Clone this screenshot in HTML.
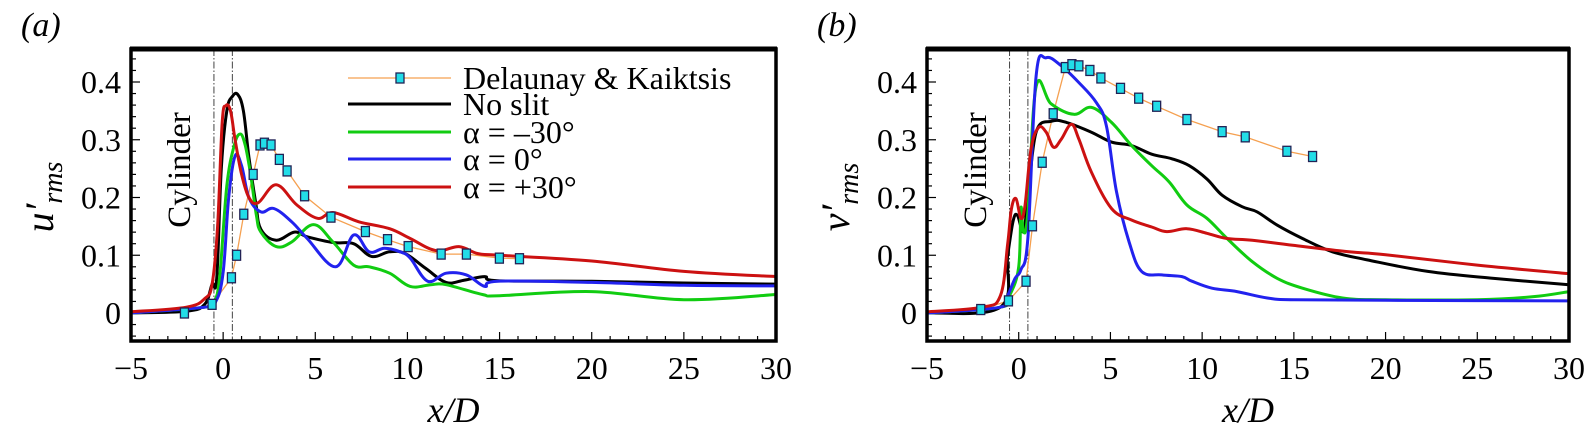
<!DOCTYPE html>
<html><head><meta charset="utf-8"><style>
body{margin:0;background:#fff}
svg{display:block}
text{font-family:"Liberation Serif","DejaVu Serif",serif}
</style></head><body>
<svg id="fig" width="1585" height="433" xmlns="http://www.w3.org/2000/svg"></svg>
<script>
const xTicks=[-5,0,5,10,15,20,25,30];
const yTicks=[0,0.1,0.2,0.3,0.4];
const yTickLabels=["0","0.1","0.2","0.3","0.4"];
// panel a
const aDKx=[-2.1,-0.6,0.45,0.73,1.12,1.63,2.0,2.24,2.6,3.05,3.47,4.42,5.85,7.72,8.92,10.04,11.83,13.2,14.99,16.08];
const aDKy=[0,0.015,0.061,0.10,0.171,0.24,0.291,0.294,0.291,0.266,0.246,0.203,0.166,0.141,0.127,0.115,0.102,0.102,0.095,0.094];
const aBlackX=[-5,-2,-1,-0.6,-0.35,-0.1,0.2,0.5,0.8,1.1,1.4,1.77,2.05,2.88,3.86,4.56,5.96,7.08,8.05,9.03,9.87,11.0,12.1,13.1,14.2,14.9,20,25,30];
const aBlackY=[0,0.003,0.015,0.05,0.06,0.25,0.35,0.375,0.378,0.35,0.27,0.19,0.145,0.126,0.14,0.132,0.122,0.12,0.098,0.106,0.103,0.077,0.053,0.057,0.063,0.056,0.055,0.052,0.05];
const aGreenX=[-5,-1,-0.5,-0.2,0.2,0.6,0.93,1.2,1.49,1.8,2.05,2.88,3.72,4.9,5.96,7.08,7.92,9.03,10.15,11.27,12.1,14.07,15,20,25,30];
const aGreenY=[0,0.01,0.02,0.06,0.22,0.29,0.31,0.29,0.24,0.17,0.14,0.115,0.123,0.153,0.123,0.083,0.08,0.069,0.046,0.049,0.049,0.032,0.03,0.037,0.023,0.032];
const aBlueX=[-5,-1,-0.4,0,0.3,0.65,1.0,1.4,2.05,2.75,3.72,4.56,6.1,7.08,7.92,8.75,9.6,10.15,11.1,12.1,13.2,14.2,14.9,20,25,30];
const aBlueY=[0,0.01,0.02,0.07,0.2,0.272,0.255,0.2,0.175,0.181,0.158,0.129,0.08,0.135,0.106,0.112,0.106,0.095,0.055,0.069,0.066,0.046,0.055,0.053,0.048,0.047];
const aRedX=[-5,-2,-1,-0.6,-0.3,-0.05,0.15,0.4,0.65,1.0,1.4,1.9,2.88,4.0,5.12,5.96,7.36,9.03,10.15,11.55,12.8,13.8,15,20,25,30];
const aRedY=[0.002,0.01,0.025,0.05,0.15,0.33,0.359,0.35,0.30,0.24,0.2,0.191,0.222,0.187,0.164,0.174,0.158,0.146,0.129,0.108,0.115,0.103,0.1,0.09,0.072,0.063];
// panel b
const bDKx=[-2.07,-0.56,0.4,0.75,1.28,1.88,2.54,2.9,3.28,3.88,4.48,5.55,6.54,7.52,9.17,11.09,12.35,14.62,16.02];
const bDKy=[0.006,0.021,0.055,0.151,0.261,0.345,0.425,0.43,0.428,0.42,0.407,0.389,0.372,0.358,0.335,0.314,0.305,0.28,0.271];
const bBlackX=[-5,-1,-0.6,-0.3,-0.07,0.26,0.5,0.95,1.77,2.6,3.96,5.06,6.15,7.25,8.35,9.3,10.26,11.09,12.18,13.0,14.1,15.47,17.1,19.0,22.3,25.9,30];
const bBlackY=[0,0.01,0.1,0.16,0.169,0.141,0.2,0.313,0.332,0.33,0.313,0.296,0.29,0.275,0.267,0.255,0.232,0.204,0.184,0.175,0.152,0.129,0.106,0.092,0.072,0.06,0.049];
const bGreenX=[-5,-1,-0.5,0,0.12,0.26,0.5,0.95,1.77,3.0,3.96,5.06,6.15,7.25,8.2,9.17,10.26,11.36,12.73,14.1,15.47,17.66,20,25,28,30];
const bGreenY=[0,0.01,0.03,0.08,0.182,0.14,0.175,0.392,0.362,0.344,0.356,0.33,0.29,0.255,0.227,0.187,0.164,0.129,0.089,0.06,0.043,0.026,0.023,0.023,0.028,0.037];
const bBlueX=[-5,-1,-0.6,-0.2,0.12,0.5,0.95,1.5,2.32,3.28,4.24,4.78,5.33,6.02,6.7,7.8,8.9,9.44,10.54,11.9,13.55,15,20,30];
const bBlueY=[0,0.01,0.03,0.06,0.075,0.13,0.41,0.442,0.428,0.399,0.364,0.324,0.21,0.123,0.072,0.066,0.063,0.055,0.043,0.037,0.026,0.023,0.022,0.021];
const bRedX=[-5,-2,-1,-0.6,-0.4,-0.15,0.12,0.34,0.67,1.08,1.5,1.9,2.32,2.87,3.28,3.96,5.06,6.15,7.25,8.07,9.17,10.26,11.36,12.73,15,18,20,25,30];
const bRedY=[0.002,0.01,0.03,0.12,0.18,0.198,0.164,0.186,0.284,0.321,0.313,0.287,0.301,0.327,0.301,0.244,0.181,0.161,0.149,0.141,0.146,0.138,0.129,0.126,0.117,0.106,0.101,0.083,0.068];

const NS="http://www.w3.org/2000/svg";
const svg=document.getElementById('fig');
function mk(tag,attrs,parent,text){const e=document.createElementNS(NS,tag);for(const k in attrs)e.setAttribute(k,attrs[k]);if(text!==undefined)e.textContent=text;(parent||svg).appendChild(e);return e;}
const Y0=313,YS=577.5,TOP=49,BOT=341;
function yS(v){return Y0-v*YS;}
function smooth(P){
  let d='M'+P[0][0].toFixed(1)+','+P[0][1].toFixed(1);
  for(let i=0;i<P.length-1;i++){
    const p0=P[Math.max(0,i-1)],p1=P[i],p2=P[i+1],p3=P[Math.min(P.length-1,i+2)];
    const t=0.18;
    const c1=[p1[0]+(p2[0]-p0[0])*t,p1[1]+(p2[1]-p0[1])*t];
    const c2=[p2[0]-(p3[0]-p1[0])*t,p2[1]-(p3[1]-p1[1])*t];
    d+='C'+c1[0].toFixed(1)+','+c1[1].toFixed(1)+' '+c2[0].toFixed(1)+','+c2[1].toFixed(1)+' '+p2[0].toFixed(1)+','+p2[1].toFixed(1);
  }
  return d;
}

function panel(left,right,letter,yvar,series,dk,legend){
  const xS=v=>left+(v+5)*(right-left)/35;
  const g=mk('g',{});
  
  
  const lab=mk('text',{x:left-110,y:36,'font-size':34,'font-style':'italic'},g,'('+letter+')');
  
  
  for(let v=-5;v<=30;v++){const L=(v%5===0)?9:5;mk('line',{x1:xS(v),x2:xS(v),y1:BOT,y2:BOT-L,stroke:'#000','stroke-width':1.2},g);}
  for(let k=-3;k<=22;k++){const v=k*0.02;const y=yS(v);if(y<TOP||y>BOT)continue;const L=(k%5===0)?9:5;mk('line',{x1:left,x2:left+L,y1:y,y2:y,stroke:'#000','stroke-width':1.2},g);}
  [-0.5,0.5].forEach(v=>{const l=mk('line',{x1:xS(v),x2:xS(v),y1:TOP,y2:BOT,stroke:'#444','stroke-width':1,'stroke-dasharray':'7 2 1.5 2'},g);
    
    });
  const cy=mk('text',{x:0,y:0,'font-size':33,'text-anchor':'middle',transform:`translate(${xS(-2.45)+12},170) rotate(-90)`},g,'Cylinder');
  
  
  const dd=dk.x.map((v,i)=>(i?'L':'M')+xS(v).toFixed(1)+','+yS(dk.y[i]).toFixed(1)).join('');
  const dl=mk('path',{d:dd,fill:'none',stroke:'#f5a050','stroke-width':1.3},g);
  
  
  series.forEach(s=>{const d=smooth(s.x.map((v,i)=>[xS(v),yS(s.y[i])]));
    const p=mk('path',{d:d,fill:'none',stroke:s.c,'stroke-width':3,'stroke-linejoin':'round'},g);
    
    });
  dk.x.forEach((v,i)=>{const r=mk('rect',{x:xS(v)-4,y:yS(dk.y[i])-5,width:8,height:10,fill:'#22dde8',stroke:'#225',"stroke-width":1.3},g);
    
    });
  mk('rect',{x:left,y:TOP,width:right-left,height:BOT-TOP,fill:'none',stroke:'#000','stroke-width':3.5},g);
  mk('line',{x1:left-1,x2:right+1,y1:TOP,y2:TOP,stroke:'#000','stroke-width':5},g);
  xTicks.forEach(v=>{const t=mk('text',{x:xS(v),y:379,'font-size':32,'text-anchor':'middle'},g,v<0?'\u2212'+(-v):String(v));
    
    });
  yTicks.forEach((v,i)=>{const t=mk('text',{x:left-10,y:yS(v)+11,'font-size':32,'text-anchor':'end'},g,yTickLabels[i]);
    
    });
  const xt=mk('text',{x:(left+right)/2-0,y:422,'font-size':36,'font-style':'italic','text-anchor':'middle'},g,'x/D');
  
  
  const yt=mk('text',{x:0,y:0,'font-size':40,'font-style':'italic','text-anchor':'middle',transform:`translate(${left-78},197) rotate(-90)`},g);
  
  
  mk('tspan',{},yt,yvar+'\u2032');
  mk('tspan',{'font-size':28,dy:9},yt,'rms');
  if(legend){
    const lg=mk('g',{},g);
    
    
    const rows=[{t:'Delaunay & Kaiktsis',c:'#f5a050',dk:1},{t:'No slit',c:'#000'},{t:'\u03b1 = \u201330\u00b0',c:'#11cc11'},{t:'\u03b1 = 0\u00b0',c:'#2222ee'},{t:'\u03b1 = +30\u00b0',c:'#cc1111'}];
    const ys=[78,104,132,159,187];
    rows.forEach((r,i)=>{
      const e=mk('g',{},lg);
      
      
      mk('line',{x1:348,x2:451,y1:ys[i],y2:ys[i],stroke:r.c,'stroke-width':r.dk?1.3:3},e);
      if(r.dk)mk('rect',{x:396,y:ys[i]-5,width:8,height:10,fill:'#22dde8',stroke:'#225','stroke-width':1.3},e);
      mk('text',{x:463,y:ys[i]+11,'font-size':32},e,r.t);
    });
  }
}
panel(131,776,'a','u',[
 {n:'no-slit',c:'#000',x:aBlackX,y:aBlackY},
 {n:'alpha-minus30',c:'#11cc11',x:aGreenX,y:aGreenY},
 {n:'alpha-0',c:'#2222ee',x:aBlueX,y:aBlueY},
 {n:'alpha-plus30',c:'#cc1111',x:aRedX,y:aRedY}],{x:aDKx,y:aDKy},true);
panel(927,1569,'b','v',[
 {n:'no-slit',c:'#000',x:bBlackX,y:bBlackY},
 {n:'alpha-minus30',c:'#11cc11',x:bGreenX,y:bGreenY},
 {n:'alpha-0',c:'#2222ee',x:bBlueX,y:bBlueY},
 {n:'alpha-plus30',c:'#cc1111',x:bRedX,y:bRedY}],{x:bDKx,y:bDKy},false);
</script>
</body></html>
